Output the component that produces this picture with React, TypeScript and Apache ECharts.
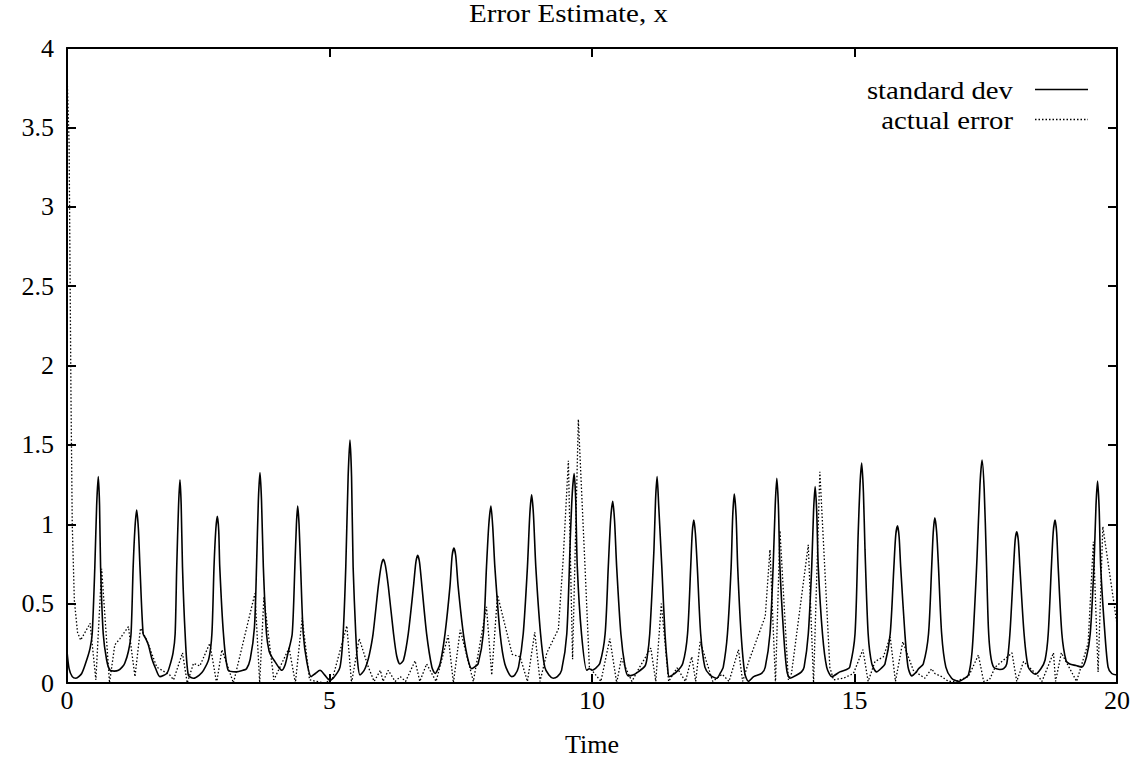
import React, { useEffect, useRef } from "react";
import * as echarts from "echarts";

const titleText = "Error Estimate, x";
const xName = "Time";
const seriesNames = ["standard dev", "actual error"];

// standard deviation [time, value]
const stdDev: [number, number][] = [
  [0, 0.2], [0.04, 0.09], [0.1, 0.04], [0.17, 0.03], [0.28, 0.06], [0.375, 0.145], [0.44, 0.22], [0.48, 0.31], [0.53, 0.73], [0.565, 1.12], [0.596, 1.3], [0.62, 1.12], [0.64, 0.73], [0.69, 0.31], [0.755, 0.145], [0.82, 0.08], [0.9, 0.075], [0.98, 0.08], [1.05, 0.1],
  [1.1, 0.124], [1.17, 0.2], [1.22, 0.31], [1.26, 0.73], [1.295, 0.98], [1.327, 1.09], [1.36, 0.97], [1.39, 0.73], [1.45, 0.31], [1.5, 0.28], [1.55, 0.24], [1.62, 0.15], [1.69, 0.09], [1.77, 0.04], [1.9, 0.06],
  [1.95, 0.1], [2.02, 0.19], [2.06, 0.31], [2.09, 0.73], [2.125, 1.12], [2.152, 1.28], [2.175, 1.12], [2.2, 0.73], [2.25, 0.31], [2.31, 0.05], [2.41, 0.03], [2.52, 0.05], [2.6, 0.08],
  [2.7, 0.15], [2.76, 0.31], [2.8, 0.73], [2.835, 0.97], [2.864, 1.05], [2.89, 0.96], [2.91, 0.73], [2.98, 0.31], [3.07, 0.08], [3.23, 0.07], [3.35, 0.08],
  [3.42, 0.09], [3.49, 0.15], [3.57, 0.35], [3.61, 0.73], [3.645, 1.15], [3.676, 1.325], [3.705, 1.15], [3.74, 0.73], [3.8, 0.31], [3.85, 0.2], [3.9, 0.165], [3.96, 0.135], [4.03, 0.1], [4.09, 0.08], [4.15, 0.11], [4.21, 0.19],
  [4.29, 0.31], [4.34, 0.73], [4.37, 1.0], [4.394, 1.115], [4.42, 1.0], [4.45, 0.73], [4.5, 0.31], [4.57, 0.13], [4.65, 0.04], [4.73, 0.06], [4.82, 0.08], [4.91, 0.05], [5.0, 0.02], [5.07, 0.03],
  [5.2, 0.1], [5.26, 0.31], [5.31, 0.73], [5.355, 1.3], [5.39, 1.53], [5.42, 1.3], [5.45, 0.73], [5.5, 0.31], [5.53, 0.15], [5.58, 0.05], [5.66, 0.08],
  [5.71, 0.12], [5.76, 0.18], [5.83, 0.31], [5.93, 0.61], [5.985, 0.74], [6.025, 0.78], [6.065, 0.74], [6.12, 0.61], [6.22, 0.31], [6.28, 0.17], [6.34, 0.12],
  [6.41, 0.145], [6.5, 0.31], [6.6, 0.61], [6.645, 0.76], [6.68, 0.805], [6.715, 0.76], [6.76, 0.61], [6.85, 0.31], [6.95, 0.1], [7.01, 0.06],
  [7.105, 0.12], [7.2, 0.31], [7.295, 0.61], [7.335, 0.8], [7.37, 0.85], [7.405, 0.8], [7.45, 0.61], [7.55, 0.31], [7.64, 0.145], [7.71, 0.09],
  [7.76, 0.1], [7.83, 0.12], [7.93, 0.31], [7.99, 0.73], [8.035, 1.0], [8.075, 1.115], [8.11, 0.98], [8.15, 0.73], [8.25, 0.31], [8.34, 0.12], [8.47, 0.04],
  [8.53, 0.05], [8.6, 0.1], [8.69, 0.31], [8.77, 0.73], [8.815, 1.06], [8.85, 1.185], [8.885, 1.06], [8.93, 0.73], [9.02, 0.31], [9.1, 0.1], [9.18, 0.05], [9.26, 0.03],
  [9.34, 0.04], [9.42, 0.08], [9.52, 0.31], [9.59, 0.94], [9.625, 1.2], [9.66, 1.32], [9.69, 1.15], [9.72, 0.73], [9.8, 0.31], [9.9, 0.08], [9.95, 0.09], [10.0, 0.08], [10.06, 0.09],
  [10.15, 0.124], [10.25, 0.31], [10.31, 0.73], [10.355, 1.03], [10.395, 1.145], [10.43, 1.02], [10.47, 0.73], [10.55, 0.31], [10.63, 0.1], [10.69, 0.045], [10.78, 0.05], [10.88, 0.07], [11.01, 0.107],
  [11.05, 0.16], [11.1, 0.31], [11.18, 0.84], [11.21, 1.15], [11.24, 1.3], [11.27, 1.12], [11.33, 0.73], [11.39, 0.31], [11.44, 0.1], [11.47, 0.04], [11.61, 0.07], [11.73, 0.124],
  [11.82, 0.31], [11.88, 0.73], [11.91, 0.95], [11.94, 1.027], [11.97, 0.94], [12.006, 0.73], [12.07, 0.31], [12.15, 0.1], [12.25, 0.05], [12.375, 0.03], [12.44, 0.06],
  [12.5, 0.1], [12.58, 0.31], [12.65, 0.73], [12.68, 1.05], [12.71, 1.19], [12.745, 1.05], [12.775, 0.73], [12.84, 0.31], [12.91, 0.06], [12.98, 0.01], [13.08, 0.04], [13.23, 0.06],
  [13.3, 0.1], [13.39, 0.31], [13.45, 0.73], [13.49, 1.12], [13.52, 1.29], [13.55, 1.12], [13.58, 0.73], [13.65, 0.31], [13.71, 0.08], [13.77, 0.03], [13.9, 0.05], [13.99, 0.07],
  [14.04, 0.1], [14.12, 0.31], [14.185, 0.73], [14.22, 1.08], [14.25, 1.237], [14.28, 1.08], [14.31, 0.73], [14.39, 0.31], [14.47, 0.1], [14.57, 0.04], [14.72, 0.07], [14.85, 0.085],
  [14.91, 0.1], [15.01, 0.31], [15.07, 0.94], [15.105, 1.25], [15.137, 1.385], [15.17, 1.2], [15.2, 0.84], [15.26, 0.31], [15.33, 0.12], [15.42, 0.07], [15.5, 0.09],
  [15.58, 0.12], [15.68, 0.31], [15.75, 0.73], [15.785, 0.93], [15.82, 0.99], [15.85, 0.92], [15.88, 0.73], [15.96, 0.31], [16.02, 0.1], [16.09, 0.045], [16.18, 0.07], [16.22, 0.09],
  [16.31, 0.12], [16.41, 0.31], [16.47, 0.73], [16.5, 0.95], [16.53, 1.04], [16.565, 0.95], [16.6, 0.73], [16.66, 0.31], [16.74, 0.1], [16.85, 0.03], [16.98, 0.01], [17.1, 0.03], [17.17, 0.05],
  [17.24, 0.2], [17.3, 0.55], [17.335, 0.8], [17.39, 1.25], [17.43, 1.405], [17.47, 1.22], [17.51, 0.8], [17.55, 0.35], [17.59, 0.18], [17.65, 0.1], [17.77, 0.085], [17.84, 0.09],
  [17.9, 0.12], [17.96, 0.31], [18.03, 0.73], [18.06, 0.9], [18.09, 0.953], [18.12, 0.9], [18.15, 0.73], [18.23, 0.31], [18.31, 0.1], [18.44, 0.055], [18.55, 0.09],
  [18.63, 0.145], [18.69, 0.31], [18.75, 0.73], [18.785, 0.95], [18.82, 1.027], [18.85, 0.95], [18.88, 0.73], [18.95, 0.31], [19.03, 0.14], [19.1, 0.12], [19.22, 0.11], [19.33, 0.1], [19.42, 0.165],
  [19.49, 0.31], [19.56, 0.73], [19.6, 1.12], [19.63, 1.272], [19.66, 1.1], [19.69, 0.73], [19.77, 0.31], [19.83, 0.1], [19.9, 0.06], [20.0, 0.05],
];

// actual error [time, value]
const actualError: [number, number][] = [
  [0, 3.85], [0.04, 3.4], [0.076, 1.8], [0.1, 1.0], [0.14, 0.52], [0.2, 0.32], [0.26, 0.27], [0.44, 0.376], [0.55, 0.02], [0.66, 0.72], [0.81, 0.0],
  [0.91, 0.24], [1.01, 0.28], [1.17, 0.355], [1.295, 0.04], [1.4, 0.345], [1.52, 0.27], [1.71, 0.1], [1.96, 0.05], [2.03, 0.02], [2.2, 0.19], [2.29, 0.0],
  [2.41, 0.124], [2.53, 0.107], [2.72, 0.25], [2.85, 0.0], [2.95, 0.21], [3.17, 0.0], [3.58, 0.565], [3.67, 0.0], [3.75, 0.54], [3.94, 0.02], [4.23, 0.22],
  [4.35, 0.0], [4.48, 0.41], [4.62, 0.02], [4.75, 0.01], [4.9, 0.0], [5.05, 0.02], [5.33, 0.36], [5.42, 0.0], [5.565, 0.28], [5.74, 0.1], [5.85, 0.01],
  [5.97, 0.08], [6.02, 0.01], [6.12, 0.08], [6.25, 0.01], [6.35, 0.04], [6.45, 0.01], [6.63, 0.14], [6.72, 0.01], [6.85, 0.12], [7.03, 0.01], [7.26, 0.3],
  [7.36, 0.0], [7.49, 0.335], [7.74, 0.01], [7.99, 0.48], [8.09, 0.05], [8.2, 0.555], [8.48, 0.18], [8.63, 0.165], [8.77, 0.01], [8.91, 0.32], [9.01, 0.01],
  [9.14, 0.19], [9.36, 0.34], [9.45, 0.775], [9.55, 1.4], [9.63, 0.15], [9.74, 1.66], [9.87, 0.71], [9.95, 0.1], [10.17, 0.01], [10.34, 0.28], [10.47, 0.0],
  [10.56, 0.155], [10.76, 0.01], [10.89, 0.09], [11.12, 0.22], [11.215, 0.01], [11.32, 0.5], [11.46, 0.01], [11.62, 0.095], [11.78, 0.01], [11.9, 0.165],
  [11.975, 0.01], [12.06, 0.26], [12.3, 0.01], [12.48, 0.055], [12.61, 0.01], [12.79, 0.21], [12.87, 0.01], [12.99, 0.14], [13.3, 0.42], [13.39, 0.84],
  [13.495, 0.0], [13.58, 0.96], [13.74, 0.02], [13.8, 0.06], [14.12, 0.87], [14.22, 0.0], [14.34, 1.33], [14.53, 0.1], [14.6, 0.02], [14.79, 0.03],
  [14.98, 0.06], [15.16, 0.21], [15.26, 0.01], [15.39, 0.135], [15.55, 0.165], [15.68, 0.29], [15.78, 0.01], [15.92, 0.26], [16.12, 0.08], [16.34, 0.03],
  [16.47, 0.09], [16.53, 0.06], [16.66, 0.04], [16.79, 0.01], [16.92, 0.01], [17.17, 0.04], [17.36, 0.176], [17.46, 0.01], [17.57, 0.02], [17.68, 0.1],
  [18.0, 0.19], [18.09, 0.01], [18.22, 0.135], [18.51, 0.04], [18.57, 0.01], [18.79, 0.19], [18.83, 0.01], [18.94, 0.19], [19.23, 0.01], [19.45, 0.25],
  [19.55, 0.89], [19.64, 0.07], [19.73, 0.985], [20.0, 0.37],
];

const FONT = '"Liberation Serif", "Times New Roman", serif';

export default function App() {
  const ref = useRef<HTMLDivElement>(null);
  useEffect(() => {
    if (!ref.current) return;
    const chart = echarts.init(ref.current, null, { renderer: "svg" });
    const axisLine = { show: true, onZero: false, lineStyle: { color: "#000", width: 2 } };
    const axisTick = { show: true, inside: true, length: 9, lineStyle: { color: "#000", width: 2 } };
    const label = { color: "#000", fontSize: 26, fontFamily: FONT };
    chart.setOption({
      animation: false,
      backgroundColor: "#fff",
      grid: { left: 67, right: 20, top: 48, bottom: 78, outerBoundsMode: "none" },
      xAxis: [
        {
          type: "value", min: 0, max: 20, interval: 5, position: "bottom",
          axisLine, axisTick, splitLine: { show: false },
          axisLabel: { ...label, margin: 4 },
          name: xName, nameLocation: "middle", nameGap: 48,
          nameTextStyle: { ...label },
        },
        {
          type: "value", min: 0, max: 20, interval: 5, position: "top",
          axisLine, axisTick, splitLine: { show: false }, axisLabel: { show: false },
        },
      ],
      yAxis: [
        {
          type: "value", min: 0, max: 4, interval: 0.5, position: "left",
          axisLine, axisTick, splitLine: { show: false },
          axisLabel: { ...label, margin: 13 },
        },
        {
          type: "value", min: 0, max: 4, interval: 0.5, position: "right",
          axisLine, axisTick, splitLine: { show: false }, axisLabel: { show: false },
        },
      ],
      series: [
        {
          name: seriesNames[1], type: "line", data: actualError, xAxisIndex: 0, yAxisIndex: 0,
          showSymbol: false, symbol: "none",
          lineStyle: { color: "#000", width: 1.3, type: [1.5, 2] },
        },
        {
          name: seriesNames[0], type: "line", data: stdDev, xAxisIndex: 0, yAxisIndex: 0,
          showSymbol: false, symbol: "none", smooth: 0.25,
          lineStyle: { color: "#000", width: 1.6 },
        },
      ],
      graphic: [
        {
          type: "text", x: 568.5, y: 14, scaleX: 1.16,
          style: { text: titleText, font: `25px ${FONT}`, fill: "#000", align: "center", verticalAlign: "middle" },
        },
        {
          type: "text", x: 1013, y: 91, scaleX: 1.15,
          style: { text: seriesNames[0], font: `25px ${FONT}`, fill: "#000", align: "right", verticalAlign: "middle" },
        },
        {
          type: "text", x: 1013, y: 121, scaleX: 1.15,
          style: { text: seriesNames[1], font: `25px ${FONT}`, fill: "#000", align: "right", verticalAlign: "middle" },
        },
        {
          type: "line", shape: { x1: 1035, y1: 89.5, x2: 1088, y2: 89.5 },
          style: { stroke: "#000", lineWidth: 1.6 },
        },
        {
          type: "line", shape: { x1: 1035, y1: 119.5, x2: 1088, y2: 119.5 },
          style: { stroke: "#000", lineWidth: 1.3, lineDash: [1.5, 2] },
        },
      ],
    });
    return () => chart.dispose();
  }, []);
  return (
    <div
      ref={ref}
      style={{ position: "absolute", left: 0, top: 0, width: 1137, height: 761, background: "#fff" }}
    />
  );
}
